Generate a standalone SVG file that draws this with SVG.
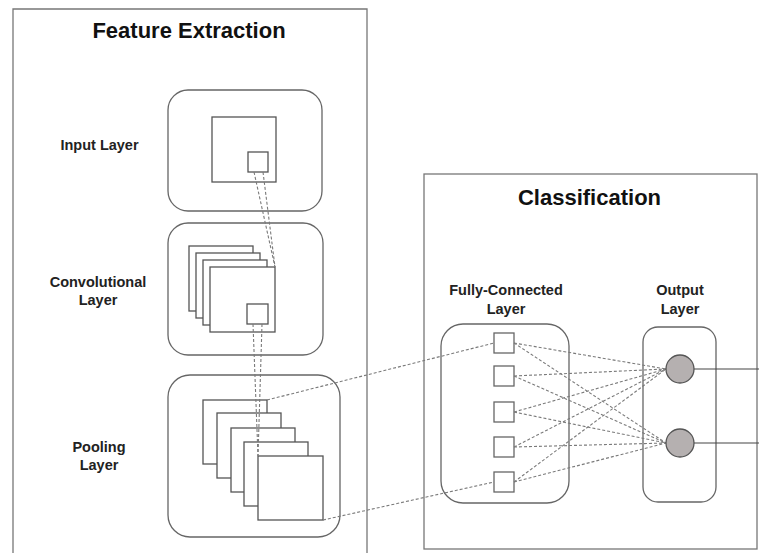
<svg xmlns="http://www.w3.org/2000/svg" width="759" height="553" viewBox="0 0 759 553">
  <style>
    .panel { fill: none; stroke: #777; stroke-width: 1.3; }
    .layer { fill: #fff; stroke: #666; stroke-width: 1.3; }
    .map { fill: #fff; stroke: #555; stroke-width: 1.3; }
    .unit { fill: #fff; stroke: #666; stroke-width: 1.3; }
    .neuron { fill: #b5b0b0; stroke: #555; stroke-width: 1.3; }
    .link { fill: none; stroke: #7a7a7a; stroke-width: 1.1; stroke-dasharray: 3 2; }
    .out { fill: none; stroke: #444; stroke-width: 1.2; }
    .title { font-family: "Liberation Sans", Arial, sans-serif; font-weight: bold; font-size: 22px; fill: #111; text-anchor: middle; }
    .label { font-family: "Liberation Sans", Arial, sans-serif; font-weight: bold; font-size: 14.5px; fill: #222; text-anchor: middle; }
  </style>

  <rect width="759" height="553" fill="#fff"/>

  <!-- section frames -->
  <g id="feature-extraction">
    <path class="panel" d="M13,553 V9 H367 V553"/>
    <text class="title" x="189" y="38">Feature Extraction</text>
  </g>
  <g id="classification">
    <rect class="panel" x="424" y="174" width="333" height="375"/>
    <text class="title" x="589.5" y="205">Classification</text>
  </g>

  <!-- input layer -->
  <g id="input-layer">
    <text class="label" x="99.5" y="150">Input Layer</text>
    <rect class="layer" x="168" y="90" width="154" height="121" rx="20"/>
    <rect class="map" x="212" y="117" width="64" height="65"/>
    <rect class="map" x="248" y="152" width="20" height="20"/>
  </g>

  <!-- convolutional layer -->
  <g id="conv-layer">
    <text class="label" x="98" y="287">Convolutional</text>
    <text class="label" x="98" y="305">Layer</text>
    <rect class="layer" x="168" y="223" width="155" height="132" rx="20"/>
    <rect class="map" x="189" y="246" width="64" height="65"/>
    <rect class="map" x="196" y="253" width="64" height="65"/>
    <rect class="map" x="203" y="260" width="64" height="65"/>
    <rect class="map" x="210" y="267" width="65" height="65"/>
    <rect class="map" x="247" y="304" width="21" height="20"/>
  </g>

  <!-- pooling layer -->
  <g id="pooling-layer">
    <text class="label" x="99" y="452">Pooling</text>
    <text class="label" x="99" y="470">Layer</text>
    <rect class="layer" x="168" y="375" width="172" height="162" rx="22"/>
    <rect class="map" x="203" y="400" width="64" height="64"/>
    <rect class="map" x="217" y="413" width="64" height="65"/>
    <rect class="map" x="231" y="428" width="64" height="64"/>
    <rect class="map" x="244" y="442" width="64" height="64"/>
    <rect class="map" x="258" y="456" width="65" height="64"/>
  </g>

  <!-- fully-connected layer -->
  <g id="fc-layer">
    <text class="label" x="506" y="295">Fully-Connected</text>
    <text class="label" x="506" y="314">Layer</text>
    <rect class="layer" x="441" y="324" width="128" height="179" rx="22"/>
    <rect class="unit" x="494" y="333" width="20" height="20"/>
    <rect class="unit" x="494" y="366" width="20" height="20"/>
    <rect class="unit" x="494" y="402" width="20" height="20"/>
    <rect class="unit" x="494" y="437" width="20" height="20"/>
    <rect class="unit" x="494" y="472" width="20" height="20"/>
  </g>

  <!-- output layer -->
  <g id="output-layer">
    <text class="label" x="680" y="295">Output</text>
    <text class="label" x="680" y="314">Layer</text>
    <rect class="layer" x="643" y="327" width="73" height="175" rx="15"/>
  </g>

  <!-- connectors -->
  <g id="connectors">
    <line class="link" x1="254" y1="172" x2="275" y2="267"/>
    <line class="link" x1="263" y1="172" x2="275" y2="267"/>
    <line class="link" x1="253" y1="324" x2="258" y2="456"/>
    <line class="link" x1="262" y1="324" x2="258" y2="456"/>
    <line class="link" x1="267" y1="400" x2="494" y2="343"/>
    <line class="link" x1="323" y1="520" x2="494" y2="482"/>

    <line class="link" x1="514" y1="343" x2="666" y2="369"/>
    <line class="link" x1="514" y1="376" x2="666" y2="369"/>
    <line class="link" x1="514" y1="412" x2="666" y2="369"/>
    <line class="link" x1="514" y1="447" x2="666" y2="369"/>
    <line class="link" x1="514" y1="482" x2="666" y2="369"/>
    <line class="link" x1="514" y1="343" x2="666" y2="443"/>
    <line class="link" x1="514" y1="376" x2="666" y2="443"/>
    <line class="link" x1="514" y1="412" x2="666" y2="443"/>
    <line class="link" x1="514" y1="447" x2="666" y2="443"/>
    <line class="link" x1="514" y1="482" x2="666" y2="443"/>

    <line class="out" x1="694" y1="369" x2="759" y2="369"/>
    <line class="out" x1="694" y1="443" x2="759" y2="443"/>
  </g>

  <!-- output neurons -->
  <g id="output-neurons">
    <circle class="neuron" cx="680" cy="369" r="14"/>
    <circle class="neuron" cx="680" cy="443" r="14"/>
  </g>
</svg>
